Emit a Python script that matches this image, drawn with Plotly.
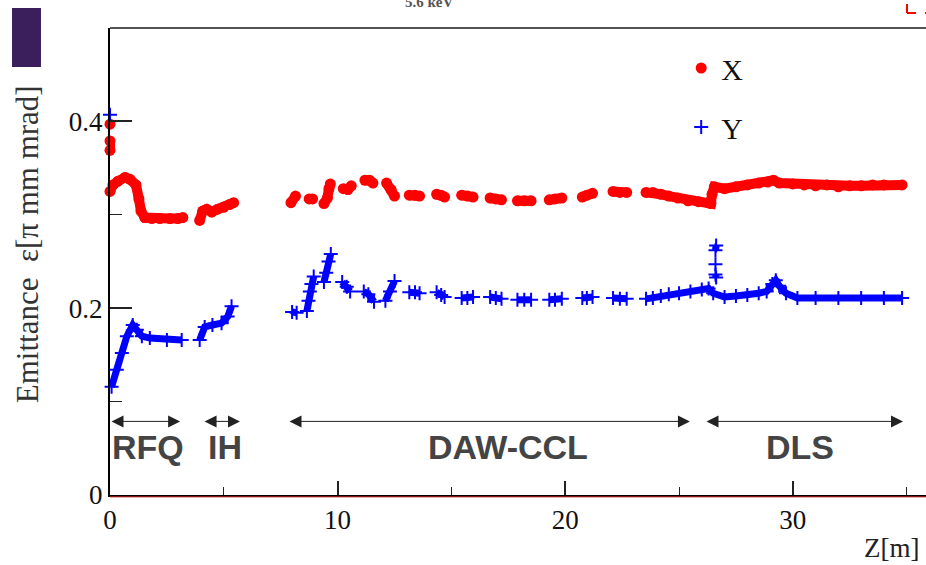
import plotly.graph_objects as go

# ---------------- data ----------------
# X emittance (red dots); None separates unconnected pieces
x_z = [0, None, 0, 0, None,
       0.0, 0.13, 0.35, 0.66, 0.88, 1.14, 1.27, 1.36, 1.53, 1.84, 2.19, 2.63, 2.98, 3.2, None,
       3.94, 4.07, 4.25, 4.47, 4.73, 4.99, 5.26, 5.43, None,
       7.95, 8.15, None,
       8.75, 8.9, None,
       9.4, 9.55, 9.62, 9.68, None,
       10.25, 10.45, 10.6, None,
       11.2, 11.4, 11.55, None,
       12.15, 12.35, 12.5, None,
       13.15, 13.4, 13.6, None,
       14.35, 14.55, 14.7, None,
       15.45, 15.7, 15.95, None,
       16.7, 16.95, 17.2, None,
       17.9, 18.2, 18.5, None,
       19.3, 19.55, 19.85, None,
       20.75, 20.95, 21.2, None,
       22.1, 22.4, 22.7, None,
       23.55, 23.85, 24.2, 24.55, 24.95, 25.4, 25.85, 26.28, 26.4, 26.45, 26.55,
       27.0, 27.5, 28.0, 28.5, 28.9, 29.15, 29.4, 30.0, 30.5, 31.0, 31.5, 32.0,
       32.5, 33.0, 33.5, 34.0, 34.8]
x_eps = [0.397, None, 0.379, 0.369, None,
         0.325, 0.332, 0.336, 0.340, 0.338, 0.332, 0.317, 0.304, 0.297, 0.296, 0.296, 0.296, 0.296, 0.297, None,
         0.294, 0.304, 0.306, 0.303, 0.306, 0.308, 0.311, 0.313, None,
         0.313, 0.320, None,
         0.317, 0.317, None,
         0.312, 0.318, 0.328, 0.333, None,
         0.328, 0.327, 0.331, None,
         0.337, 0.337, 0.334, None,
         0.334, 0.327, 0.320, None,
         0.321, 0.321, 0.320, None,
         0.322, 0.321, 0.319, None,
         0.321, 0.320, 0.319, None,
         0.318, 0.317, 0.316, None,
         0.315, 0.315, 0.315, None,
         0.316, 0.317, 0.318, None,
         0.319, 0.321, 0.323, None,
         0.325, 0.324, 0.324, None,
         0.324, 0.324, 0.322, 0.320, 0.318, 0.315, 0.314, 0.313, 0.312, 0.322, 0.330,
         0.328, 0.330, 0.332, 0.334, 0.335, 0.337, 0.334, 0.333, 0.332, 0.331, 0.332, 0.330,
         0.331, 0.331, 0.332, 0.332, 0.332]

# Y emittance (blue crosses)
y_z = [0, None,
       0.07, 0.3, 0.52, 0.74, 1.0, 1.18, 1.4, 1.75, 2.5, 3.15, None,
       3.94, 4.16, 4.5, 4.9, 5.17, 5.34, None,
       8.0, 8.2, None,
       8.65, 8.72, 8.78, 8.85, 8.95, None,
       9.4, 9.5, 9.6, 9.7, None,
       10.2, 10.4, 10.55, None,
       11.15, 11.35, 11.6, None,
       12.1, 12.3, 12.5, None,
       13.15, 13.4, 13.6, None,
       14.35, 14.55, 14.7, None,
       15.45, 15.7, 15.95, None,
       16.7, 16.95, 17.2, None,
       17.9, 18.2, 18.5, None,
       19.3, 19.55, 19.85, None,
       20.75, 20.95, 21.2, None,
       22.1, 22.4, 22.7, None,
       23.55, 23.85, 24.2, 24.55, 25.0, 25.5, 26.0, 26.3, 26.5, 27.0, 27.5, 28.0,
       28.5, 28.85, 29.1, 29.25, 29.4, 29.7, 30.2, 31.0, 32.0, 33.0, 34.0, 34.8, None,
       26.63, 26.6, None,
       26.6, None,
       26.6, 26.63]
y_eps = [0.407, None,
         0.116, 0.134, 0.152, 0.170, 0.182, 0.177, 0.170, 0.168, 0.166, 0.166, None,
         0.166, 0.180, 0.182, 0.184, 0.191, 0.202, None,
         0.196, 0.195, None,
         0.197, 0.208, 0.218, 0.226, 0.234, None,
         0.228, 0.238, 0.250, 0.258, None,
         0.228, 0.223, 0.218, None,
         0.218, 0.215, 0.207, None,
         0.208, 0.218, 0.229, None,
         0.217, 0.217, 0.216, None,
         0.217, 0.214, 0.212, None,
         0.211, 0.211, 0.212, None,
         0.212, 0.211, 0.210, None,
         0.209, 0.209, 0.209, None,
         0.209, 0.209, 0.210, None,
         0.211, 0.211, 0.212, None,
         0.211, 0.210, 0.210, None,
         0.210, 0.211, 0.213, 0.215, 0.216, 0.218, 0.220, 0.221, 0.216, 0.212, 0.213, 0.214,
         0.216, 0.218, 0.226, 0.230, 0.224, 0.216, 0.211, 0.211, 0.211, 0.211, 0.211, 0.211, None,
         0.267, 0.262, None,
         0.247, None,
         0.236, 0.233]

# accelerator sections: name, start z, end z, label centre
sec_names = ["RFQ", "IH", "DAW-CCL", "DLS"]
sec_start = [0.0, 4.09, 7.82, 26.14]
sec_end = [3.08, 5.71, 25.48, 34.84]
sec_label_z = [1.67, 5.05, 17.49, 30.3]

x_ticks = [0, 10, 20, 30]
y_ticks = [0, 0.2, 0.4]

# ---------------- figure ----------------
SERIF = "Liberation Serif"
RED = "#ff0000"
BLUE = "#0000ff"

fig = go.Figure()

fig.add_trace(go.Scatter(x=x_z, y=x_eps, mode="lines", showlegend=False,
                         line=dict(color=RED, width=10), hoverinfo="skip"))
fig.add_trace(go.Scatter(x=x_z, y=x_eps, mode="markers", name="X", legendgroup="X",
                         marker=dict(color=RED, size=11, symbol="circle"), cliponaxis=False))
fig.add_trace(go.Scatter(x=y_z, y=y_eps, mode="lines", showlegend=False,
                         line=dict(color=BLUE, width=7), hoverinfo="skip"))
fig.add_trace(go.Scatter(x=y_z, y=y_eps, mode="markers", name="Y", legendgroup="Y",
                         marker=dict(color=BLUE, size=10, symbol="cross-thin",
                                     line=dict(color=BLUE, width=2)), cliponaxis=False))

annotations = []
for name, s, e, c in zip(sec_names, sec_start, sec_end, sec_label_z):
    annotations.append(dict(x=e, y=0.0788, ax=s, ay=0.0788, xref="x", yref="y",
                            axref="x", ayref="y", text="", showarrow=True,
                            arrowhead=2, startarrowhead=2, arrowside="end+start",
                            arrowsize=2.4, startarrowsize=2.4, arrowwidth=1,
                            arrowcolor="#222222", standoff=0, startstandoff=0))
    annotations.append(dict(x=c, y=0.0514, xref="x", yref="y", text="<b>%s</b>" % name,
                            showarrow=False, xanchor="center", yanchor="middle",
                            font=dict(family="Liberation Sans", size=34, color="#444444")))

annotations.append(dict(x=-0.1017, y=0.537, xref="paper", yref="paper",
                        text="Emittance\u00a0\u00a0ε[π mm mrad]", textangle=-90,
                        showarrow=False, xanchor="center", yanchor="middle",
                        font=dict(family=SERIF, size=31, color="#333333")))
annotations.append(dict(x=0.9216, y=-0.113, xref="paper", yref="paper", text="Z[m]",
                        showarrow=False, xanchor="left", yanchor="middle",
                        font=dict(family=SERIF, size=27, color="#222222")))
annotations.append(dict(x=0.392, y=1.056, xref="paper", yref="paper", text="<b>5.6 keV</b>",
                        showarrow=False, xanchor="center", yanchor="middle",
                        font=dict(family=SERIF, size=15, color="#555555")))

shapes = [
    # top frame line
    dict(type="line", xref="paper", yref="paper", x0=0, x1=1, y0=1, y1=1,
         line=dict(color="#555555", width=2)),
    # red line under the x axis
    dict(type="line", xref="paper", yref="paper", x0=0, x1=1, y0=-0.004, y1=-0.004,
         line=dict(color="#d02020", width=1)),
    # purple box top-left
    dict(type="rect", xref="paper", yref="paper", x0=-0.1201, x1=-0.0846, y0=0.9165, y1=1.0428,
         fillcolor="#3b1e5c", line=dict(width=0)),
    # red dashed corner top-right
    dict(type="line", xref="paper", yref="paper", x0=0.9767, x1=0.9767, y0=1.0321, y1=1.07,
         line=dict(color=RED, width=2, dash="dash")),
    dict(type="line", xref="paper", yref="paper", x0=0.9767, x1=1.0, y0=1.0321, y1=1.0321,
         line=dict(color=RED, width=2, dash="dash")),
]

fig.update_layout(
    width=926, height=565,
    margin=dict(l=110, r=0, t=28, b=70, pad=0),
    paper_bgcolor="white", plot_bgcolor="white",
    showlegend=True,
    legend=dict(x=0.70, y=0.97, xanchor="left", yanchor="top",
                bgcolor="rgba(0,0,0,0)", font=dict(family=SERIF, size=30, color="#111111"),
                tracegroupgap=17, itemsizing="trace"),
    annotations=annotations, shapes=shapes,
    font=dict(family=SERIF, color="#111111"),
)

fig.update_xaxes(range=[0, 35.85], showgrid=False, zeroline=False,
                 showline=True, linecolor="#000000", linewidth=2,
                 ticks="inside", ticklen=14, tickwidth=1.5, tickcolor="#222222",
                 tickvals=x_ticks, ticktext=[str(v) for v in x_ticks],
                 tickfont=dict(family=SERIF, size=27, color="#111111"),
                 minor=dict(dtick=5, tick0=0, ticks="inside", ticklen=8, tickwidth=1.2,
                            tickcolor="#222222", showgrid=False))
fig.update_yaxes(range=[0, 0.5], showgrid=False, zeroline=False,
                 showline=True, linecolor="#000000", linewidth=2,
                 ticks="inside", ticklen=22, tickwidth=1.5, tickcolor="#222222",
                 tickvals=y_ticks, ticktext=["0", "0.2", "0.4"],
                 tickfont=dict(family=SERIF, size=27, color="#111111"),
                 minor=dict(dtick=0.1, tick0=0, ticks="inside", ticklen=12, tickwidth=1.2,
                            tickcolor="#222222", showgrid=False))

fig.write_html("out.html", config={"displayModeBar": False},
               post_script="document.body.style.margin='0';document.body.style.overflow='hidden';")
